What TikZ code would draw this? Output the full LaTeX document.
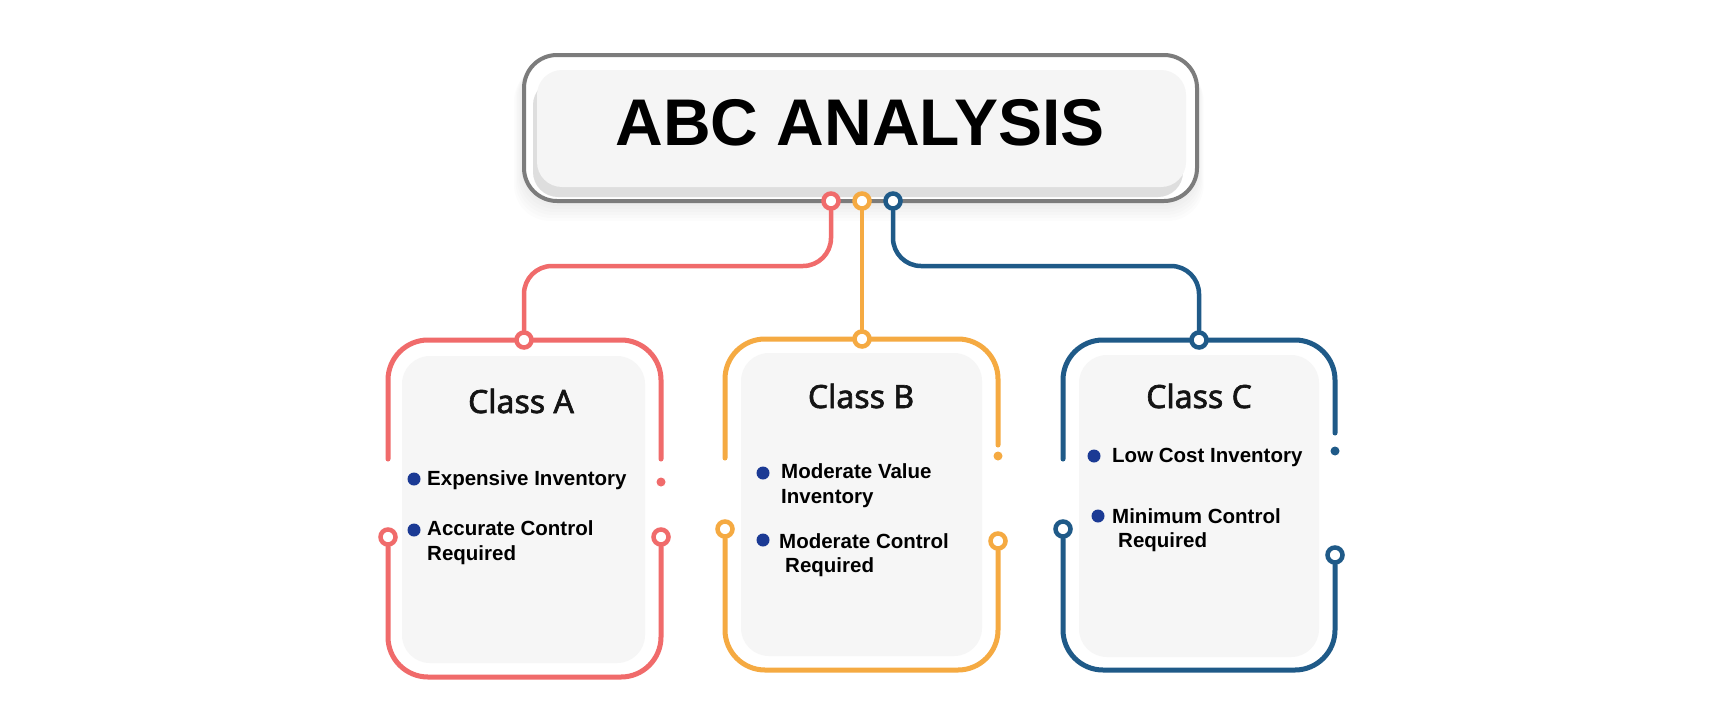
\documentclass[tikz,border=0pt]{standalone}
\usepackage{fontspec}
\setmainfont{Liberation Sans}
\newfontfamily\classfont[FakeBold=2]{Noto Sans}
\usetikzlibrary{backgrounds}

\definecolor{clsA}{HTML}{F06B6B}
\definecolor{clsB}{HTML}{F5AA42}
\definecolor{clsC}{HTML}{1F5A88}
\definecolor{dotblue}{HTML}{1B3A94}
\definecolor{framegrey}{HTML}{7C7C7C}
\definecolor{panelgrey}{HTML}{F6F6F6}

\tikzset{
  link/.style={line width=4.5pt,line cap=round,rounded corners=28pt},
  frame/.style={line width=5pt,line cap=round,rounded corners=40pt},
  ring/.style={circle,draw=#1,fill=white,line width=4.5pt,minimum size=15pt,inner sep=0pt},
  knob/.style={circle,fill=#1,minimum size=9pt,inner sep=0pt},
  bullet/.style={circle,fill=dotblue,minimum size=13pt,inner sep=0pt},
  item/.style={anchor=base west,inner sep=0pt,font=\bfseries\fontsize{20.5}{25}\selectfont},
  classlabel/.style={anchor=base,inner sep=0pt,text=black!92,font=\classfont\fontsize{32}{38}\selectfont},
  panel/.style={fill=panelgrey,rounded corners=28pt}
}

\begin{document}
\begin{tikzpicture}[x=1pt,y=-1pt]

  \useasboundingbox (0,0) rectangle (1720,720);

  \coordinate (bus) at (0,266);

  \coordinate (a nw) at (388,340);
  \coordinate (a se) at (661,677);
  \coordinate (a lgap) at (388,459);
  \coordinate (a rgap) at (661,459);

  \coordinate (b nw) at (725,339);
  \coordinate (b se) at (998,670);
  \coordinate (b lgap) at (725,458);
  \coordinate (b rgap) at (998,445);

  \coordinate (c nw) at (1063,340);
  \coordinate (c se) at (1335,670);
  \coordinate (c lgap) at (1063,459);
  \coordinate (c rgap) at (1335,433);

  % rings and dots
  \node[ring=clsA] (t1) at (831,201) {};
  \node[ring=clsB] (t2) at (862,201) {};
  \node[ring=clsC] (t3) at (893,201) {};

  \node[ring=clsA] (a top) at (524,340) {};
  \node[ring=clsA] (a lring) at (388,537) {};
  \node[ring=clsA] (a rring) at (661,537) {};
  \node[knob=clsA] (a knob) at (661,482) {};

  \node[ring=clsB] (b top) at (862,339) {};
  \node[ring=clsB] (b lring) at (725,529) {};
  \node[ring=clsB] (b rring) at (998,541) {};
  \node[knob=clsB] (b knob) at (998,456) {};

  \node[ring=clsC] (c top) at (1199,340) {};
  \node[ring=clsC] (c lring) at (1063,529) {};
  \node[ring=clsC] (c rring) at (1335,555) {};
  \node[knob=clsC] (c knob) at (1335,451) {};

  % texts
  \node[anchor=base,inner sep=0pt,font=\bfseries\fontsize{66}{70}\selectfont] (title) at (860,145) {ABC ANALYSIS};

  \node[classlabel] (a label) at (521,413) {Class A};
  \node[classlabel] (b label) at (861,408) {Class B};
  \node[classlabel] (c label) at (1199,408) {Class C};

  \node[bullet] (a dot1) at (414,479) {};
  \node[item] (a item1) at (427,485) {Expensive Inventory};
  \node[bullet] (a dot2) at (414,530) {};
  \node[item] (a item2) at (427,535) {Accurate Control};
  \node[item] (a item2b) at (427,560) {Required};

  \node[bullet] (b dot1) at (763,473) {};
  \node[item] (b item1) at (781,478) {Moderate Value};
  \node[item] (b item1b) at (781,503) {Inventory};
  \node[bullet] (b dot2) at (763,540) {};
  \node[item] (b item2) at (779,548) {Moderate Control};
  \node[item] (b item2b) at (785,572) {Required};

  \node[bullet] (c dot1) at (1094,456) {};
  \node[item] (c item1) at (1112,462) {Low Cost Inventory};
  \node[bullet] (c dot2) at (1098,516) {};
  \node[item] (c item2) at (1112,523) {Minimum Control};
  \node[item] (c item2b) at (1118,547) {Required};

  \begin{scope}[on background layer]
    \fill[white] (0,0) rectangle (1720,720);

    % title box
    \foreach \k in {2,5,...,20}
      \fill[black,opacity=0.012,rounded corners=36pt] (524-\k/2,55+\k/2) rectangle (1197+\k/3,201+\k);
    \draw[framegrey,fill=white,line width=4pt,rounded corners=33pt] (524,55) rectangle (1197,201);
    \fill[black!13,rounded corners=25pt] (533,80) rectangle (1183,197);
    \fill[black!4,rounded corners=25pt] (537,70) rectangle (1186,187);

    % panels
    \fill[panel] (402,356) rectangle (645,663);
    \fill[panel] (741,353) rectangle (982,656);
    \fill[panel] (1079,355) rectangle (1319,657);

    % links from the title
    \draw[link,clsA] (t1) -- (t1 |- bus) -- (a top |- bus) -- (a top);
    \draw[link,clsB] (t2) -- (b top);
    \draw[link,clsC] (t3) -- (t3 |- bus) -- (c top |- bus) -- (c top);

    % frames
    \draw[frame,clsA] (a lgap) -- (a lgap |- a nw) -- (a rgap |- a nw) -- (a rgap);
    \draw[frame,clsA] (a lring) -- (a lring |- a se) -- (a rring |- a se) -- (a rring);

    \draw[frame,clsB] (b lgap) -- (b lgap |- b nw) -- (b rgap |- b nw) -- (b rgap);
    \draw[frame,clsB] (b lring) -- (b lring |- b se) -- (b rring |- b se) -- (b rring);

    \draw[frame,clsC] (c lgap) -- (c lgap |- c nw) -- (c rgap |- c nw) -- (c rgap);
    \draw[frame,clsC] (c lring) -- (c lring |- c se) -- (c rring |- c se) -- (c rring);
  \end{scope}

\end{tikzpicture}
\end{document}
